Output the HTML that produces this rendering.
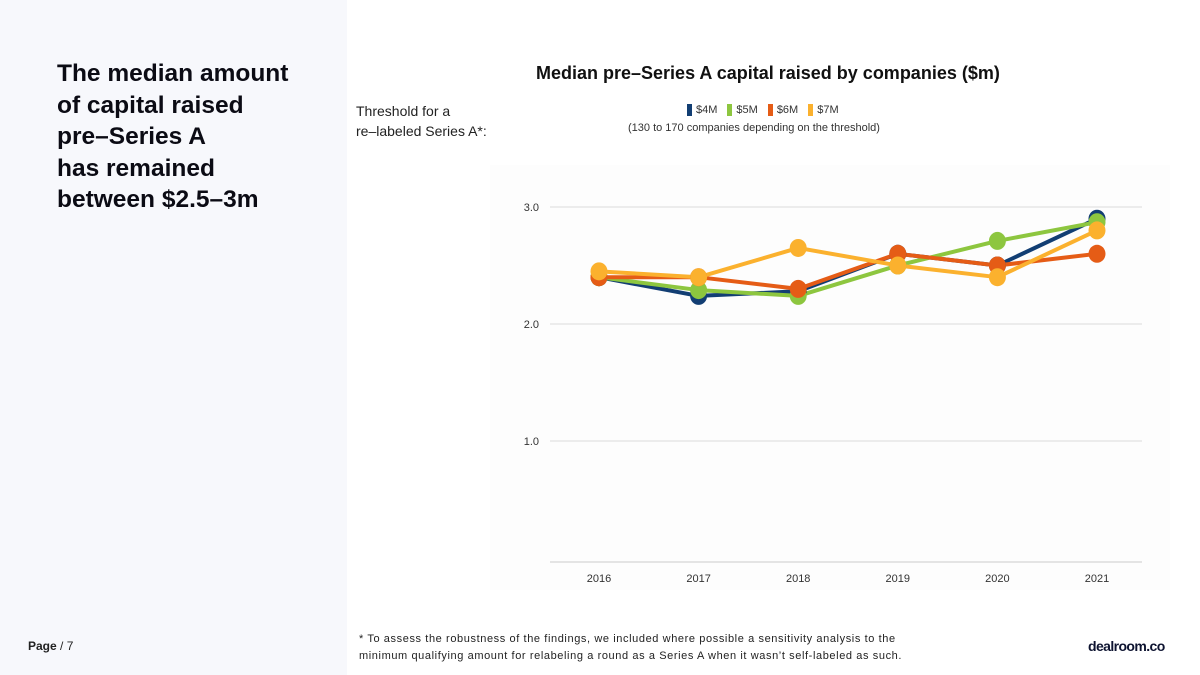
<!DOCTYPE html>
<html><head><meta charset="utf-8"><style>
body{margin:0;width:1200px;height:675px;background:#fff;font-family:"Liberation Sans",sans-serif;position:relative;overflow:hidden;color:#111}
.abs{position:absolute}
</style></head><body>
<div class="abs" style="left:0;top:0;width:347px;height:675px;background:#f7f8fc"></div>
<div class="abs" style="left:57px;top:58px;font-size:24.5px;font-weight:bold;line-height:31.5px;color:#0b0b14">The median amount<br>of capital raised<br>pre–Series A<br>has remained<br>between $2.5–3m</div>
<div class="abs" style="left:28px;top:639px;font-size:12px;color:#222"><b>Page</b> / 7</div>
<div class="abs" style="left:536px;top:63px;font-size:18px;font-weight:bold;color:#111">Median pre–Series A capital raised by companies ($m)</div>
<div class="abs" style="left:356px;top:101px;font-size:14px;line-height:20px;color:#222">Threshold for a<br>re–labeled Series A*:</div>
<div class="abs" style="left:687px;top:104px;font-size:11px;color:#333;display:flex;gap:10px;align-items:center">
<span><span style="display:inline-block;width:5px;height:12px;background:#123e73;vertical-align:middle;margin-right:4px"></span>$4M</span>
<span><span style="display:inline-block;width:5px;height:12px;background:#8dc63f;vertical-align:middle;margin-right:4px"></span>$5M</span>
<span><span style="display:inline-block;width:5px;height:12px;background:#e55c16;vertical-align:middle;margin-right:4px"></span>$6M</span>
<span><span style="display:inline-block;width:5px;height:12px;background:#fbb12e;vertical-align:middle;margin-right:4px"></span>$7M</span>
</div>
<div class="abs" style="left:628px;top:122px;font-size:11px;color:#333">(130 to 170 companies depending on the threshold)</div>
<svg class="abs" style="left:0;top:0" width="1200" height="675" id="chart"></svg>
<div class="abs" style="left:359px;top:631px;font-size:11px;line-height:17px;color:#222;letter-spacing:0.6px">* To assess the robustness of the findings, we included where possible a sensitivity analysis to the<br>minimum qualifying amount for relabeling a round as a Series A when it wasn’t self-labeled as such.</div>
<div class="abs" style="left:1088px;top:638px;font-size:14px;font-weight:bold;color:#0d1330;letter-spacing:-0.6px">dealroom.co</div>
<script>
const years=["2016","2017","2018","2019","2020","2021"];
const yTicks=[1.0,2.0,3.0];
const s4=[2.40,2.24,2.28,2.60,2.50,2.90];
const s5=[2.40,2.29,2.24,2.50,2.71,2.87];
const s6=[2.40,2.40,2.30,2.60,2.50,2.60];
const s7=[2.45,2.40,2.65,2.50,2.40,2.80];
const NS="http://www.w3.org/2000/svg";
const svg=document.getElementById('chart');
const x=i=>599+i*99.6;
const y=v=>558-v*117;
function mk(t,a){const e=document.createElementNS(NS,t);for(const k in a)e.setAttribute(k,a[k]);svg.appendChild(e);return e;}
const bg=mk('rect',{x:490,y:165,width:680,height:425,fill:'#fdfdfd'});


yTicks.forEach(t=>{
  const l=mk('line',{x1:550,x2:1142,y1:y(t),y2:y(t),stroke:'#e6e6e6','stroke-width':1.5});
  
  
  const tx=mk('text',{x:539,y:y(t)+4,'text-anchor':'end','font-size':11,fill:'#333'});
  tx.textContent=t.toFixed(1);
  
  
});
const ax=mk('line',{x1:550,x2:1142,y1:562,y2:562,stroke:'#ccc','stroke-width':1});


years.forEach((yr,i)=>{
  const tx=mk('text',{x:x(i),y:582,'text-anchor':'middle','font-size':11,fill:'#333'});
  tx.textContent=yr;
  
  
});
const series=[[s4,'#123e73','4m'],[s5,'#8dc63f','5m'],[s6,'#e55c16','6m'],[s7,'#fbb12e','7m']];
series.forEach(([d,c,n])=>{
  const p=mk('polyline',{points:d.map((v,i)=>x(i)+','+y(v)).join(' '),fill:'none',stroke:c,'stroke-width':4,'stroke-linejoin':'round'});
  
  
});
series.forEach(([d,c,n])=>{
  d.forEach((v,i)=>{
    const ci=mk('ellipse',{cx:x(i),cy:y(v),rx:8.5,ry:9,fill:c});
    
    
  });
});
</script>
</body></html>
